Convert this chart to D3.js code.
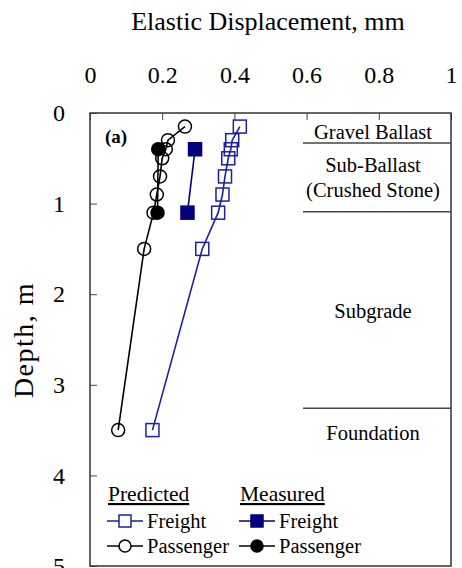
<!DOCTYPE html>
<html>
<head>
<meta charset="utf-8">
<script src="https://cdn.jsdelivr.net/npm/d3@7"></script>
<style>
  body { margin: 0; background: #fff; }
  svg text { font-family: "Liberation Serif", "Times New Roman", Times, "DejaVu Serif", serif; }
</style>
</head>
<body>
<svg id="chart" width="462" height="568"></svg>
<script>
// depths (m) of the predicted points
const predDepth = [0.15, 0.3, 0.4, 0.5, 0.7, 0.9, 1.1, 1.5, 3.5];
const predFreight = [0.415, 0.394, 0.39, 0.383, 0.374, 0.367, 0.355, 0.311, 0.173];
const predPassenger = [0.263, 0.216, 0.21, 0.20, 0.194, 0.185, 0.176, 0.15, 0.078];
// measured
const measDepth = [0.4, 1.1];
const measFreight = [0.291, 0.27];
const measPassenger = [0.189, 0.187];

const xTicks = [0, 0.2, 0.4, 0.6, 0.8, 1];
const yTicks = [0, 1, 2, 3, 4, 5];

// soil layers
const layerBounds = [0.33, 1.09, 3.26];
const layerLabels = [
  { lines: ["Gravel Ballast"], depth: 0.21 },
  { lines: ["Sub-Ballast", "(Crushed Stone)"], depth: 0.71 },
  { lines: ["Subgrade"], depth: 2.19 },
  { lines: ["Foundation"], depth: 3.53 }
];

const BLUE = "#1f1fa3";
const NAVY = "#00007f";

const margin = { top: 113, left: 90, right: 11, bottom: 2 };
const width = 462 - margin.left - margin.right;
const height = 568 - margin.top - margin.bottom;

const x = d3.scaleLinear().domain([0, 1]).range([0, width]);
const y = d3.scaleLinear().domain([0, 5]).range([0, height]);

const svg = d3.select("#chart");
const chart = svg.append("g")
  .attr("transform", "translate(" + margin.left + "," + margin.top + ")");

// title
svg.append("text")
  .attr("x", 268).attr("y", 30)
  .attr("text-anchor", "middle")
  .attr("font-size", 26)
  .text("Elastic Displacement, mm");

// y label
svg.append("text")
  .attr("transform", "translate(33," + 340 + ") rotate(-90)")
  .attr("text-anchor", "middle")
  .attr("font-size", 28)
  .attr("letter-spacing", 1.5)
  .text("Depth, m");

// x axis on top
const xAxis = d3.axisTop(x).tickValues(xTicks).tickSize(-7).tickPadding(30)
  .tickFormat(d => d === 0 || d === 1 ? d3.format("d")(d) : d3.format(".1f")(d));
const gx = chart.append("g").call(xAxis).attr("font-family", null);
gx.selectAll("text").attr("font-size", 24).attr("fill", "#000");
gx.select(".domain").remove();

// y axis on left
const yAxis = d3.axisLeft(y).tickValues(yTicks).tickSize(-7).tickPadding(25)
  .tickFormat(d3.format("d"));
const gy = chart.append("g").call(yAxis).attr("font-family", null);
gy.selectAll("text").attr("font-size", 24).attr("fill", "#000");
gy.select(".domain").remove();
chart.selectAll(".tick line").attr("stroke", "#444");

// frame
chart.append("rect")
  .attr("width", width).attr("height", height)
  .attr("fill", "none").attr("stroke", "#333").attr("stroke-width", 1.5);

// layer boundaries
chart.selectAll(".layer")
  .data(layerBounds)
  .enter().append("line")
  .attr("x1", x(0.59)).attr("x2", width)
  .attr("y1", d => y(d)).attr("y2", d => y(d))
  .attr("stroke", "#444").attr("stroke-width", 1.5);

const layerCx = (x(0.59) + width) / 2 - 4;
layerLabels.forEach(l => {
  const t = chart.append("text")
    .attr("x", layerCx)
    .attr("text-anchor", "middle")
    .attr("font-size", 20.5)
    .attr("y", y(l.depth) + 7 - (l.lines.length - 1) * 12.5);
  l.lines.forEach((s, i) => {
    t.append("tspan").attr("x", layerCx).attr("dy", i === 0 ? 0 : 25).text(s);
  });
});

// (a)
chart.append("text")
  .attr("x", 15).attr("y", 30)
  .attr("font-size", 19).attr("font-weight", "bold")
  .text("(a)");

function series(vals, depths, color, marker, fill) {
  const pts = vals.map((v, i) => ({ v: v, d: depths[i] }));
  const line = d3.line().x(p => x(p.v)).y(p => y(p.d));
  chart.append("path").datum(pts)
    .attr("d", line).attr("fill", "none")
    .attr("stroke", color).attr("stroke-width", 1.6);
  const g = chart.append("g");
  if (marker === "square") {
    g.selectAll("rect").data(pts).enter().append("rect")
      .attr("x", p => x(p.v) - 6.5).attr("y", p => y(p.d) - 6.5)
      .attr("width", 13).attr("height", 13)
      .attr("fill", fill ? color : "none")
      .attr("stroke", color).attr("stroke-width", 1.5);
  } else {
    g.selectAll("circle").data(pts).enter().append("circle")
      .attr("cx", p => x(p.v)).attr("cy", p => y(p.d)).attr("r", 6.5)
      .attr("fill", fill ? color : "none")
      .attr("stroke", color).attr("stroke-width", 1.5);
  }
}

series(predPassenger, predDepth, "#000", "circle", false);
series(predFreight, predDepth, BLUE, "square", false);
series(measFreight, measDepth, NAVY, "square", true);
series(measPassenger, measDepth, "#000", "circle", true);

// legend
const legend = [
  { head: "Predicted", x: 108, items: [
    { label: "Freight", color: BLUE, marker: "square", fill: false },
    { label: "Passenger", color: "#000", marker: "circle", fill: false }] },
  { head: "Measured", x: 240, items: [
    { label: "Freight", color: NAVY, marker: "square", fill: true },
    { label: "Passenger", color: "#000", marker: "circle", fill: true }] }
];
legend.forEach(col => {
  svg.append("text")
    .attr("x", col.x).attr("y", 501)
    .attr("font-size", 21.5)
    .attr("text-decoration", "underline")
    .text(col.head);
  col.items.forEach((it, i) => {
    const yy = 521 + i * 25;
    svg.append("line")
      .attr("x1", col.x - 1).attr("x2", col.x + 35)
      .attr("y1", yy).attr("y2", yy)
      .attr("stroke", it.color).attr("stroke-width", 1.6);
    const mx = col.x + 17;
    if (it.marker === "square") {
      svg.append("rect")
        .attr("x", mx - 6).attr("y", yy - 6).attr("width", 12).attr("height", 12)
        .attr("fill", it.fill ? it.color : "#fff")
        .attr("stroke", it.color).attr("stroke-width", 1.5);
    } else {
      svg.append("circle")
        .attr("cx", mx).attr("cy", yy).attr("r", 6)
        .attr("fill", it.fill ? it.color : "#fff")
        .attr("stroke", it.color).attr("stroke-width", 1.5);
    }
    svg.append("text")
      .attr("x", col.x + 39).attr("y", yy + 6.5)
      .attr("font-size", 20.5)
      .text(it.label);
  });
});
</script>
</body>
</html>
